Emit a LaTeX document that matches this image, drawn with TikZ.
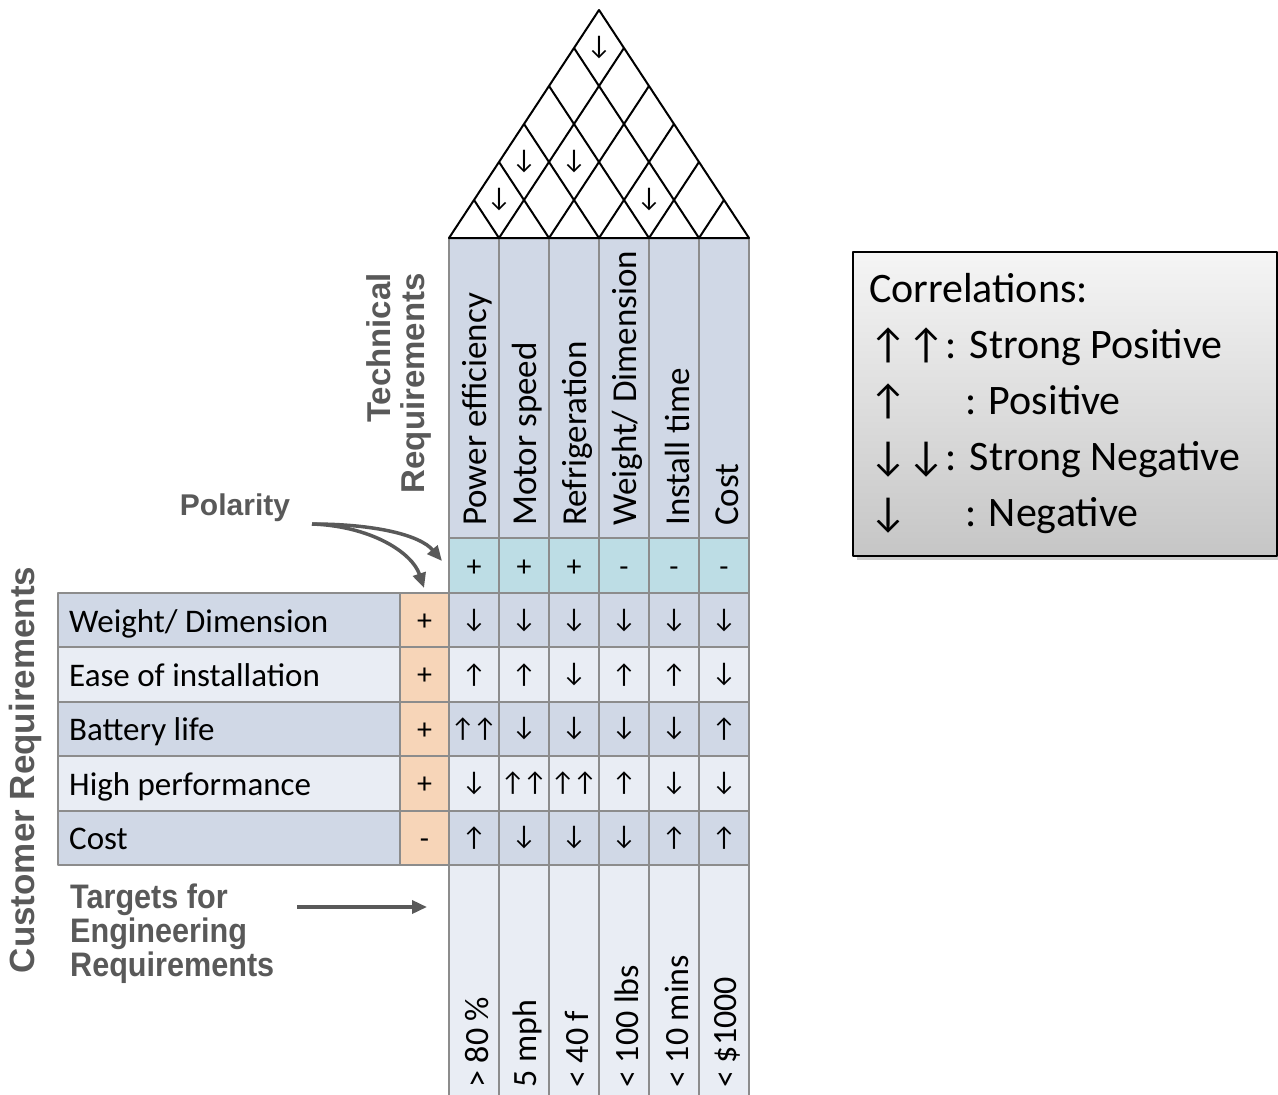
\documentclass[tikz,border=0pt]{standalone}
\usepackage{fontspec}
\setmainfont{Carlito}
\newfontfamily\arialbf{Liberation Sans}
\usetikzlibrary{arrows.meta,shadows}
\definecolor{hdrblue}{HTML}{D0D8E6}
\definecolor{rowlight}{HTML}{E9EDF4}
\definecolor{polcyan}{HTML}{BDDDE5}
\definecolor{polorange}{HTML}{F7D5B8}
\definecolor{gridgray}{HTML}{8C8C8C}
\definecolor{labgray}{HTML}{595959}
\newcommand{\cUp}{↑}
\newcommand{\cDn}{↓}
\newcommand{\cUU}{↑\kern-2pt↑}

\begin{document}
\begin{tikzpicture}[x=1pt,y=-1pt,line join=round]
\tikzset{cell/.style={draw=gridgray,line width=2pt},
  hdr/.style={rotate=90,anchor=west,inner sep=0pt,font=\fontsize{35}{40}\selectfont},
  arr/.style={inner sep=0pt,font=\fontsize{27}{30}\selectfont},
  sign/.style={anchor=base,inner sep=0pt,font=\fontsize{30}{36}\selectfont},
  lab/.style={text=labgray,inner sep=0pt,font=\arialbf\bfseries\fontsize{33}{34}\selectfont},
  grayarr/.style={draw=labgray,line width=3.5pt,-{Triangle[length=15pt,width=13pt]}},
  legbox/.style={draw,line width=1.5pt,top color=gray!8,bottom color=gray!45,
    drop shadow={shadow xshift=4pt,shadow yshift=-4pt,opacity=0.4},
    minimum width=424pt,minimum height=304pt,text width=392pt,align=flush left,
    font=\fontsize{42}{56}\selectfont}}
\useasboundingbox (0,0) rectangle (1278,1095);

% header, polarity and target columns
\foreach \t/\p/\g [count=\c from 0] in {Power efficiency/+/> 80 \%,Motor speed/+/5 mph,
  Refrigeration/+/< 40 f,{Weight/ Dimension}/-/< 100 lbs,Install time/-/< 10 mins,Cost/-/< \$1000}{
  \draw[cell,fill=hdrblue] ({449+50*\c},238) rectangle +(50,300);
  \draw[cell,fill=polcyan] ({449+50*\c},538) rectangle +(50,55);
  \draw[cell,fill=rowlight] ({449+50*\c},865) rectangle +(50,240);
  \node[hdr] (h\c) at ({477+50*\c},526) {\t};
  \node[sign] (p\c) at ({474+50*\c},576) {\p};
  \node[hdr,font=\fontsize{34}{40}\selectfont] (t\c) at ({477+50*\c},1088) {\g};
}

% customer rows
\foreach \lab/\pl/\fc [count=\r from 0] in {{Weight/ Dimension}/+/hdrblue,Ease of installation/+/rowlight,
  Battery life/+/hdrblue,High performance/+/rowlight,Cost/-/hdrblue}{
  \draw[cell,fill=\fc] (58,{593+54.4*\r}) rectangle +(342,54.4);
  \draw[cell,fill=polorange] (400,{593+54.4*\r}) rectangle +(49,54.4);
  \foreach \c in {0,...,5}{\draw[cell,fill=\fc] ({449+50*\c},{593+54.4*\r}) rectangle +(50,54.4);}
  \node[anchor=base west,inner sep=0pt,font=\fontsize{33}{36}\selectfont] (c\r) at (69,{632+54.4*\r}) {\lab};
  \node[sign] (q\r) at (424.5,{630.5+54.4*\r}) {\pl};
}

% relationship matrix
\foreach \row [count=\r from 0] in {{\cDn,\cDn,\cDn,\cDn,\cDn,\cDn},{\cUp,\cUp,\cDn,\cUp,\cUp,\cDn},
  {\cUU,\cDn,\cDn,\cDn,\cDn,\cUp},{\cDn,\cUU,\cUU,\cUp,\cDn,\cDn},{\cUp,\cDn,\cDn,\cDn,\cUp,\cUp}}{
  \foreach \s [count=\c from 0] in \row
    \node[arr] (m\r\c) at ({474+50*\c},{620.2+54.4*\r}) {\s};
}

% roof
\draw[line width=2pt] (449,238) -- (599,10) -- (749,238) -- cycle;
\foreach \k in {1,...,5}{
  \draw[line width=2pt] ({449+50*\k},238) -- ({599+25*\k},{10+38*\k});
  \draw[line width=2pt] ({449+50*\k},238) -- ({449+25*\k},{238-38*\k});
}
\foreach \i/\j in {0/1,0/2,1/3,3/4,0/5}
  \node[arr] (r\i\j) at ({474+25*(\i+\j)},{238-38*(\j-\i)}) {\cDn};

% side labels
\node[lab,rotate=90,anchor=east,align=right] (tech) at (399,273) {Technical\\Requirements};
\node[lab,rotate=90,font=\arialbf\bfseries\fontsize{35}{36}\selectfont] (cust) at (25,770) {Customer Requirements};
\node[lab,font=\arialbf\bfseries\fontsize{30}{34}\selectfont] (pol) at (235,508) {Polarity};
\node[lab,anchor=north west,align=left,xscale=0.9,font=\arialbf\bfseries\fontsize{34}{34}\selectfont] (tgt) at (70,884) {Targets for\\Engineering\\Requirements};

\coordinate (polS) at (312,524);
\coordinate (polA) at (442,561);
\coordinate (polB) at (424,588);
\draw[grayarr] (polS) .. controls (375,524) and (420,535) .. (polA);
\draw[grayarr] (polS) .. controls (370,526) and (412,552) .. (polB);
\coordinate (tgtS) at (297,907);
\coordinate (tgtE) at (427,907);
\draw[grayarr] (tgtS) -- (tgtE);

% legend
\node[legbox] (leg) at (1065,404) {Correlations:\\
  \cUp\kern1pt\cUp: Strong Positive\\
  \leavevmode\rlap{\cUp}\phantom{\cUp\kern1pt\cUp}\ \ : Positive\\
  \cDn\kern1pt\cDn: Strong Negative\\
  \leavevmode\rlap{\cDn}\phantom{\cUp\kern1pt\cUp}\ \ : Negative};
\end{tikzpicture}
\end{document}
